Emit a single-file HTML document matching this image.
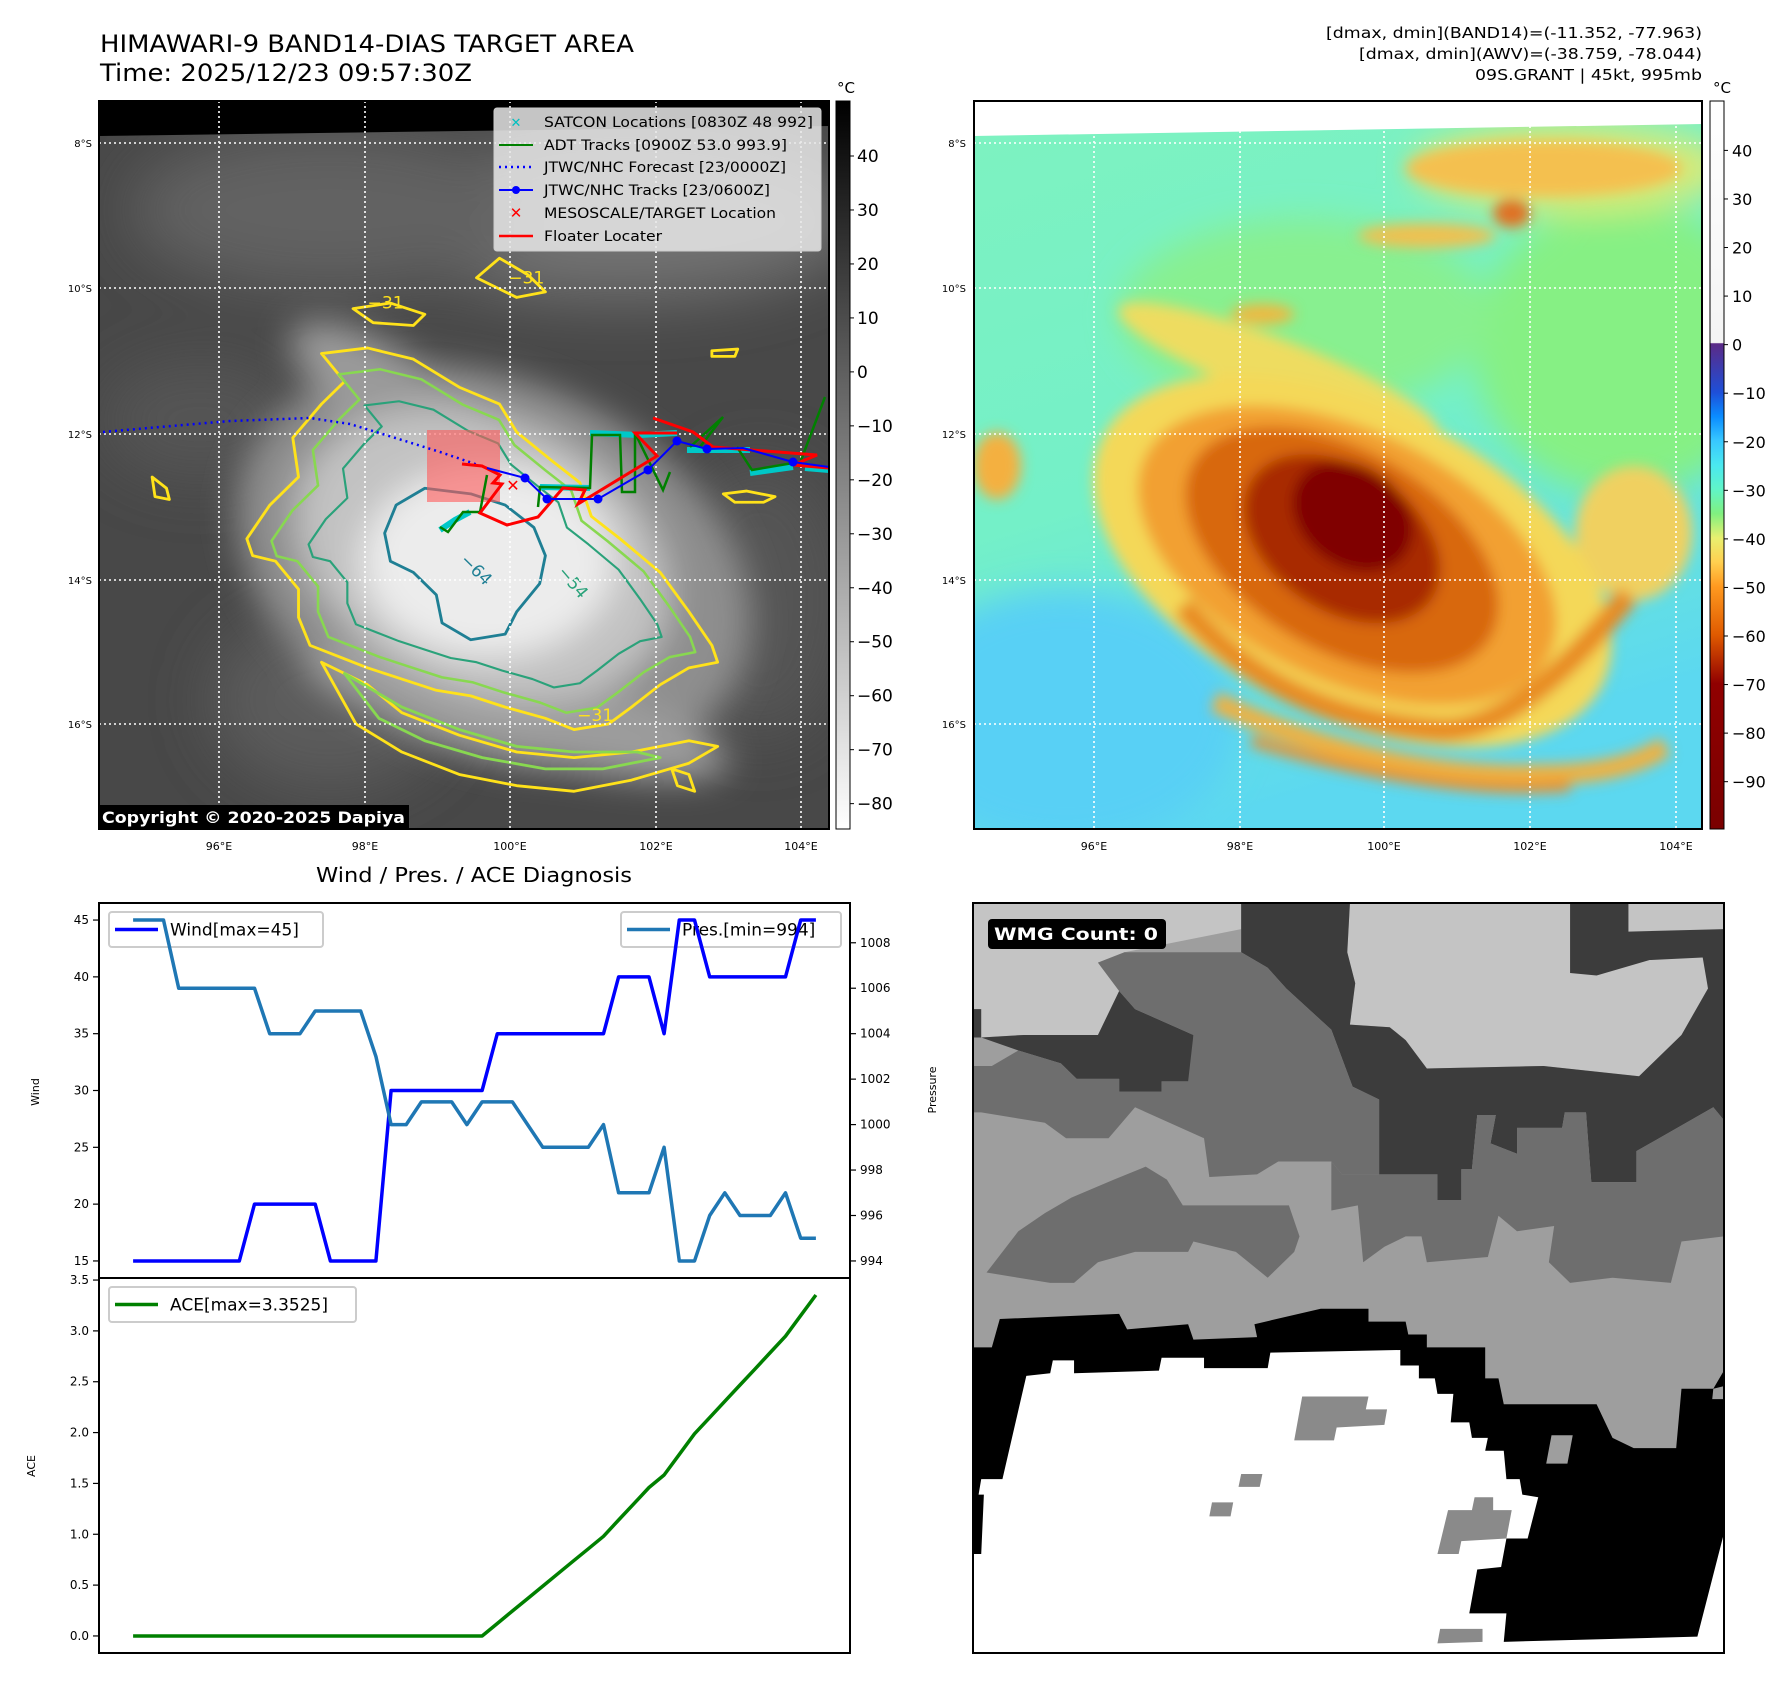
<!DOCTYPE html>
<html><head><meta charset="utf-8"><title>HIMAWARI-9 BAND14 Target Area</title>
<style>
html,body{margin:0;padding:0;background:#fff;}
svg{display:block;font-family:"DejaVu Sans","Liberation Sans",sans-serif;}
</style></head>
<body>
<svg id="fig" width="1792" height="1690" viewBox="0 0 1792 1690" xmlns="http://www.w3.org/2000/svg">
<defs>
  <clipPath id="clip1"><rect x="99" y="101" width="730" height="728"/></clipPath>
  <clipPath id="clip2"><rect x="974" y="101" width="728" height="728"/></clipPath>
  <clipPath id="clip3"><rect x="973" y="903" width="751" height="750"/></clipPath>
  <filter id="b40" x="-50%" y="-50%" width="200%" height="200%"><feGaussianBlur stdDeviation="30"/></filter>
  <filter id="b15" x="-50%" y="-50%" width="200%" height="200%"><feGaussianBlur stdDeviation="12"/></filter>
  <filter id="b6" x="-50%" y="-50%" width="200%" height="200%"><feGaussianBlur stdDeviation="5"/></filter>
  <linearGradient id="cb1" x1="0" y1="0" x2="0" y2="1">
    <stop offset="0" stop-color="#000"/><stop offset="1" stop-color="#fff"/>
  </linearGradient>
  <linearGradient id="cb2" x1="0" y1="0" x2="0" y2="1">
    <stop offset="0" stop-color="#ffffff"/>
    <stop offset="0.332" stop-color="#f4f4f4"/>
    <stop offset="0.3334" stop-color="#5b2a86"/>
    <stop offset="0.4" stop-color="#1e4fd8"/>
    <stop offset="0.4333" stop-color="#0a8cff"/>
    <stop offset="0.4667" stop-color="#38c8ff"/>
    <stop offset="0.5" stop-color="#4ae8f0"/>
    <stop offset="0.5333" stop-color="#60f5c8"/>
    <stop offset="0.5667" stop-color="#80f080"/>
    <stop offset="0.6" stop-color="#e8f070"/>
    <stop offset="0.6333" stop-color="#ffd050"/>
    <stop offset="0.6667" stop-color="#ff9a20"/>
    <stop offset="0.7333" stop-color="#e05a00"/>
    <stop offset="0.8" stop-color="#900000"/>
    <stop offset="1" stop-color="#7a0000"/>
  </linearGradient>
  <linearGradient id="bg2" x1="0" y1="0" x2="0.3" y2="1">
    <stop offset="0" stop-color="#7ef2c0"/>
    <stop offset="0.55" stop-color="#74f0c8"/>
    <stop offset="1" stop-color="#5cd8f0"/>
  </linearGradient>
</defs>

<!-- titles -->
<text x="100" y="52" font-size="24" textLength="534" lengthAdjust="spacingAndGlyphs">HIMAWARI-9 BAND14-DIAS TARGET AREA</text>
<text x="100" y="81" font-size="24" textLength="372" lengthAdjust="spacingAndGlyphs">Time: 2025/12/23 09:57:30Z</text>
<g font-size="15" text-anchor="end">
  <text x="1702" y="38" textLength="376" lengthAdjust="spacingAndGlyphs">[dmax, dmin](BAND14)=(-11.352, -77.963)</text>
  <text x="1702" y="59" textLength="343" lengthAdjust="spacingAndGlyphs">[dmax, dmin](AWV)=(-38.759, -78.044)</text>
  <text x="1702" y="80" textLength="227" lengthAdjust="spacingAndGlyphs">09S.GRANT | 45kt, 995mb</text>
</g>

<!-- ============ MAP 1 (grayscale IR) ============ -->
<g>
<g clip-path="url(#clip1)">
  <rect x="99" y="101" width="730" height="728" fill="#484848"/>
  <g filter="url(#b40)">
    <ellipse cx="620" cy="220" rx="240" ry="80" fill="#727272"/>
    <ellipse cx="330" cy="210" rx="200" ry="80" fill="#626262"/>
    <ellipse cx="200" cy="420" rx="100" ry="60" fill="#555"/>
    <ellipse cx="330" cy="700" rx="120" ry="90" fill="#5c5c5c"/>
    <ellipse cx="760" cy="600" rx="90" ry="140" fill="#555"/>
  </g>
  <g transform="scale(0.5741,0.5612)">
    <g filter="url(#b40)">
      <ellipse cx="860" cy="1010" rx="470" ry="330" transform="rotate(25 860 1010)" fill="#8e8e8e"/>
      <ellipse cx="700" cy="720" rx="230" ry="80" transform="rotate(35 700 720)" fill="#9a9a9a"/>
      <ellipse cx="900" cy="1270" rx="380" ry="80" transform="rotate(14 900 1270)" fill="#9c9c9c"/>
      <ellipse cx="840" cy="990" rx="340" ry="240" transform="rotate(25 840 990)" fill="#c2c2c2"/>
      <ellipse cx="850" cy="1000" rx="220" ry="170" fill="#ececec"/>
    </g>
    <g fill="none" stroke-width="5" stroke-linejoin="round">
      <path stroke="#ffe21a" d="M430,960 L470,900 520,850 510,780 560,720 600,680 560,630 640,620 720,640 800,690 870,720 900,770 960,820 1010,860 1030,920 1080,960 1150,1020 1200,1090 1240,1150 1250,1180 1200,1190 1150,1220 1100,1260 1060,1290 1000,1300 950,1280 880,1260 820,1240 760,1230 700,1210 640,1190 590,1170 540,1150 520,1100 520,1050 480,1000 440,990 Z"/>
      <path stroke="#ffe21a" d="M560,1180 L620,1290 700,1340 800,1380 900,1400 1000,1410 1100,1390 1200,1360 1250,1330 1200,1320 1100,1340 1000,1350 900,1340 800,1310 700,1270 640,1220 Z"/>
      <path stroke="#ffe21a" d="M830,495 L870,460 920,490 950,520 900,530 850,505 Z M615,550 L680,540 740,560 720,580 650,575 Z M1240,625 L1285,622 1280,635 1240,635 Z M265,850 L290,870 295,890 270,885 Z M1260,880 L1300,875 1350,885 1330,895 1280,895 Z M1170,1370 L1200,1380 1210,1410 1180,1400 Z"/>
      <path stroke="#88d850" transform="translate(86,100) scale(0.9)" d="M430,960 L470,900 520,850 510,780 560,720 600,680 560,630 640,620 720,640 800,690 870,720 900,770 960,820 1010,860 1030,920 1080,960 1150,1020 1200,1090 1240,1150 1250,1180 1200,1190 1150,1220 1100,1260 1060,1290 1000,1300 950,1280 880,1260 820,1240 760,1230 700,1210 640,1190 590,1170 540,1150 520,1100 520,1050 480,1000 440,990 Z"/>
      <path stroke="#88d850" d="M600,1200 L660,1280 740,1320 840,1350 950,1370 1050,1370 1150,1350 1110,1340 1000,1340 900,1330 800,1300 700,1260 Z"/>
      <path stroke="#2aa27a" transform="translate(215,250) scale(0.75)" d="M430,960 L470,900 520,850 510,780 560,720 600,680 560,630 640,620 720,640 800,690 870,720 900,770 960,820 1010,860 1030,920 1080,960 1150,1020 1200,1090 1240,1150 1250,1180 1200,1190 1150,1220 1100,1260 1060,1290 1000,1300 950,1280 880,1260 820,1240 760,1230 700,1210 640,1190 590,1170 540,1150 520,1100 520,1050 480,1000 440,990 Z"/>
      <path stroke="#1f7f94" d="M690,900 L740,870 820,880 880,900 930,940 950,990 940,1040 900,1090 880,1130 820,1140 770,1110 760,1060 720,1020 680,1000 670,950 Z"/>
    </g>
    <text x="800" y="1000" font-size="30" fill="#1f7f94" transform="rotate(45 800 1000)">−64</text>
    <text x="970" y="1020" font-size="30" fill="#2aa27a" transform="rotate(50 970 1020)">−54</text>
    <text x="1005" y="1285" font-size="30" fill="#ffe21a">−31</text>
    <text x="885" y="505" font-size="30" fill="#ffe21a">−31</text>
    <text x="640" y="550" font-size="30" fill="#ffe21a">−31</text>
  </g>
  <polygon points="99,101 829,101 829,126 99,136" fill="#000"/>
  <g stroke="#fff" stroke-width="1.6" stroke-dasharray="2,3">
    <line x1="219" y1="101" x2="219" y2="829"/><line x1="365" y1="101" x2="365" y2="829"/>
    <line x1="510" y1="101" x2="510" y2="829"/><line x1="656" y1="101" x2="656" y2="829"/>
    <line x1="801" y1="101" x2="801" y2="829"/>
    <line x1="99" y1="143" x2="829" y2="143"/><line x1="99" y1="288" x2="829" y2="288"/>
    <line x1="99" y1="434" x2="829" y2="434"/><line x1="99" y1="580" x2="829" y2="580"/>
    <line x1="99" y1="724" x2="829" y2="724"/>
  </g>
  <rect x="427" y="430" width="73" height="72" fill="rgba(255,90,90,0.6)"/>
  <polyline points="103,432 160,427 230,421 310,418 350,424 402,440 440,452 487,468" fill="none" stroke="#0000ff" stroke-width="2.5" stroke-dasharray="2,4"/>
  <g stroke="#00c8c8" stroke-width="6" fill="none">
    <polyline points="590,433 640,435 677,433"/>
    <polyline points="687,450 750,450"/>
    <polyline points="750,473 793,467"/>
    <polyline points="805,468 829,470"/>
    <polyline points="540,487 590,488"/>
    <polyline points="440,530 455,520 470,512"/>
  </g>
  <g stroke="#008000" stroke-width="2.5" fill="none">
    <polyline points="440,527 448,532 463,512 480,512 487,475"/>
    <polyline points="538,507 540,487 590,488 592,435 620,435 622,492 635,492 635,433 663,490 670,472"/>
    <polyline points="690,447 723,417 700,447"/>
    <polyline points="737,447 752,470 793,463 800,463 825,397"/>
  </g>
  <polyline points="462,464 482,466 500,475 493,483 502,484 480,513 507,525 538,517 563,488 585,490 578,504 657,456 635,433 677,433" fill="none" stroke="#ff0000" stroke-width="3"/>
  <polyline points="653,418 693,432 713,447 817,455 793,465 829,468" fill="none" stroke="#ff0000" stroke-width="3"/>
  <polyline points="487,468 525,478 547,499 598,499 648,470 677,441 707,449 743,448 793,462 829,467" fill="none" stroke="#0000ff" stroke-width="2"/>
  <g fill="#0000ff">
    <circle cx="525" cy="478" r="4.5"/><circle cx="547" cy="499" r="4.5"/><circle cx="598" cy="499" r="4.5"/>
    <circle cx="648" cy="470" r="4.5"/><circle cx="677" cy="441" r="4.5"/><circle cx="707" cy="449" r="4.5"/>
    <circle cx="793" cy="462" r="4.5"/>
  </g>
  <text x="513" y="491" font-size="16" font-weight="bold" fill="#ff0000" text-anchor="middle">✕</text>
</g>
<rect x="99" y="101" width="730" height="728" fill="none" stroke="#000" stroke-width="2"/>
<g>
  <rect x="494" y="108" width="327" height="143" rx="3" fill="rgba(232,232,232,0.85)" stroke="#ccc"/>
  <g font-size="14" fill="#000">
    <text x="516" y="127" font-size="13" fill="#00c0c0" font-weight="bold" text-anchor="middle">✕</text>
    <text x="544" y="127" textLength="269" lengthAdjust="spacingAndGlyphs">SATCON Locations [0830Z 48 992]</text>
    <line x1="499" y1="145" x2="533" y2="145" stroke="#008000" stroke-width="2"/>
    <text x="544" y="150" textLength="243" lengthAdjust="spacingAndGlyphs">ADT Tracks [0900Z 53.0 993.9]</text>
    <line x1="499" y1="167" x2="533" y2="167" stroke="#0000ff" stroke-width="2.5" stroke-dasharray="2,4"/>
    <text x="544" y="172" textLength="242" lengthAdjust="spacingAndGlyphs">JTWC/NHC Forecast [23/0000Z]</text>
    <line x1="499" y1="190" x2="533" y2="190" stroke="#0000ff" stroke-width="2"/><circle cx="516" cy="190" r="4" fill="#0000ff"/>
    <text x="544" y="195" textLength="226" lengthAdjust="spacingAndGlyphs">JTWC/NHC Tracks [23/0600Z]</text>
    <text x="516" y="218" font-size="15" fill="#ff0000" font-weight="bold" text-anchor="middle">✕</text>
    <text x="544" y="218" textLength="232" lengthAdjust="spacingAndGlyphs">MESOSCALE/TARGET Location</text>
    <line x1="499" y1="236" x2="533" y2="236" stroke="#ff0000" stroke-width="2.5"/>
    <text x="544" y="241" textLength="118" lengthAdjust="spacingAndGlyphs">Floater Locater</text>
  </g>
</g>
<g>
  <rect x="98" y="805" width="311" height="24" fill="#000"/>
  <text x="102" y="823" font-size="16" font-weight="bold" fill="#fff" textLength="303" lengthAdjust="spacingAndGlyphs">Copyright © 2020-2025 Dapiya</text>
</g>
<g font-size="10" text-anchor="end">
  <text x="92" y="147">8°S</text><text x="92" y="292">10°S</text><text x="92" y="438">12°S</text><text x="92" y="584">14°S</text><text x="92" y="728">16°S</text>
</g>
<g font-size="11" text-anchor="middle">
  <text x="219" y="850">96°E</text><text x="365" y="850">98°E</text><text x="510" y="850">100°E</text><text x="656" y="850">102°E</text><text x="801" y="850">104°E</text>
</g>
</g>
<g>
  <rect x="836" y="101" width="14" height="728" fill="url(#cb1)" stroke="#000" stroke-width="1"/>
  <text x="846" y="93" font-size="15" text-anchor="middle">°C</text>
  <g id="cb1ticks" font-size="17"></g>
</g>

<!-- ============ MAP 2 (colour) ============ -->
<g>
<g clip-path="url(#clip2)">
  <rect x="974" y="101" width="728" height="728" fill="url(#bg2)"/>
  <g transform="translate(960,0) scale(0.5305,0.5612)">
    <g filter="url(#b40)">
      <ellipse cx="1250" cy="620" rx="280" ry="260" fill="#86f084"/>
      <ellipse cx="650" cy="560" rx="350" ry="170" fill="#88f090"/>
      <ellipse cx="200" cy="1280" rx="330" ry="230" fill="#58d0f5"/>
      <ellipse cx="1150" cy="300" rx="300" ry="80" fill="#d8ea78"/>
    </g>
    <g filter="url(#b15)">
      <ellipse cx="1100" cy="300" rx="260" ry="50" fill="#f4c050"/>
      <ellipse cx="1040" cy="380" rx="35" ry="25" fill="#e07020"/>
      <ellipse cx="880" cy="420" rx="130" ry="22" fill="#f0c050"/>
      <ellipse cx="570" cy="560" rx="60" ry="18" fill="#f0b840"/>
      <ellipse cx="600" cy="660" rx="320" ry="55" transform="rotate(20 600 660)" fill="#eedc60"/>
      <ellipse cx="70" cy="830" rx="45" ry="60" fill="#f4b040"/>
      <ellipse cx="1270" cy="950" rx="110" ry="120" fill="#f0d060"/>
      <ellipse cx="740" cy="1000" rx="520" ry="280" transform="rotate(24 740 1000)" fill="#f4d858"/>
      <ellipse cx="730" cy="990" rx="420" ry="225" transform="rotate(24 730 990)" fill="#f2a030"/>
      <ellipse cx="720" cy="980" rx="320" ry="180" transform="rotate(28 720 980)" fill="#d86810"/>
      <ellipse cx="720" cy="960" rx="200" ry="130" transform="rotate(30 720 960)" fill="#a82c00"/>
      <ellipse cx="740" cy="920" rx="120" ry="90" transform="rotate(30 740 920)" fill="#800000"/>
      <path d="M420,1080 Q600,1280 900,1300 Q1050,1310 1260,1060" fill="none" stroke="#e88a20" stroke-width="40"/>
      <path d="M480,1250 Q800,1390 1100,1380 Q1250,1380 1330,1330" fill="none" stroke="#f0b040" stroke-width="36"/>
      <path d="M550,1320 Q900,1420 1150,1400" fill="none" stroke="#e89030" stroke-width="20"/>
    </g>
  </g>
  <polygon points="974,101 1702,101 1702,124 974,136" fill="#fff"/>
  <g stroke="#fff" stroke-width="1.6" stroke-dasharray="2,3">
    <line x1="1094" y1="101" x2="1094" y2="829"/><line x1="1240" y1="101" x2="1240" y2="829"/>
    <line x1="1384" y1="101" x2="1384" y2="829"/><line x1="1530" y1="101" x2="1530" y2="829"/>
    <line x1="1676" y1="101" x2="1676" y2="829"/>
    <line x1="974" y1="143" x2="1702" y2="143"/><line x1="974" y1="288" x2="1702" y2="288"/>
    <line x1="974" y1="434" x2="1702" y2="434"/><line x1="974" y1="580" x2="1702" y2="580"/>
    <line x1="974" y1="724" x2="1702" y2="724"/>
  </g>
</g>
<rect x="974" y="101" width="728" height="728" fill="none" stroke="#000" stroke-width="2"/>
<g font-size="10" text-anchor="end">
  <text x="966" y="147">8°S</text><text x="966" y="292">10°S</text><text x="966" y="438">12°S</text><text x="966" y="584">14°S</text><text x="966" y="728">16°S</text>
</g>
<g font-size="11" text-anchor="middle">
  <text x="1094" y="850">96°E</text><text x="1240" y="850">98°E</text><text x="1384" y="850">100°E</text><text x="1530" y="850">102°E</text><text x="1676" y="850">104°E</text>
</g>
</g>
<g>
  <rect x="1710" y="101" width="14" height="728" fill="url(#cb2)" stroke="#000" stroke-width="1"/>
  <text x="1722" y="93" font-size="15" text-anchor="middle">°C</text>
  <g id="cb2ticks" font-size="16"></g>
</g>

<!-- ============ WMG panel ============ -->
<g>
<g clip-path="url(#clip3)">
<g transform="translate(960,880) scale(0.5305,0.5165)">
  <rect x="25" y="45" width="1415" height="1452" fill="#9e9e9e"/>
  <polygon fill="#c4c4c4" points="25,45 530,45 530,95 310,140 260,160 300,215 270,300 120,300 40,305 25,305"/>
  <polygon fill="#c4c4c4" points="735,45 1440,45 1440,95 1400,100 1410,210 1360,300 1280,380 1100,360 880,365 840,310 810,285 735,280 745,200 730,140"/>
  <polygon fill="#3c3c3c" points="530,45 735,45 730,140 745,200 735,280 810,285 840,310 880,365 1100,360 1280,380 1360,300 1410,210 1440,210 1440,465 1420,440 1275,525 1275,585 1190,585 1180,450 1140,450 1135,480 1050,480 1050,530 1000,510 1010,455 975,455 965,560 945,560 945,620 900,620 900,570 790,570 790,425 740,400 700,290 615,210 580,170 530,140"/>
  <polygon fill="#3c3c3c" points="1150,45 1260,45 1260,100 1440,95 1440,210 1410,210 1400,150 1300,155 1200,185 1150,180"/>
  <polygon fill="#3c3c3c" points="25,250 40,250 40,305 120,300 260,300 300,215 330,250 440,300 440,390 380,390 380,410 300,410 300,385 220,385 190,355 110,330 40,305 25,305"/>
  <polygon fill="#6e6e6e" points="310,140 530,140 580,170 615,210 700,290 740,400 790,425 790,570 720,570 700,545 600,545 560,570 470,575 460,500 430,390 440,300 330,250 300,215 260,160"/>
  <polygon fill="#6e6e6e" points="25,360 60,360 110,330 190,355 220,385 300,385 300,410 380,410 380,390 440,390 460,500 330,440 280,500 200,500 160,470 40,450 25,450"/>
  <polygon fill="#6e6e6e" points="50,760 110,680 160,645 210,615 290,580 350,555 390,580 420,630 620,630 640,690 630,720 580,770 520,720 440,700 430,720 330,720 260,740 215,780 170,780"/>
  <polygon fill="#6e6e6e" points="700,545 720,570 900,570 900,620 945,620 945,560 965,560 975,455 1010,455 1000,510 1050,530 1050,480 1135,480 1140,450 1180,450 1190,585 1275,585 1275,525 1420,440 1440,465 1440,690 1360,700 1340,780 1230,770 1150,780 1110,740 1120,670 1050,680 1015,650 995,730 880,740 870,690 840,690 800,710 760,740 750,630 700,640 700,580"/>
  <polygon fill="#000" points="25,905 60,905 75,850 300,840 315,870 430,860 440,890 560,885 555,860 680,830 770,830 770,855 840,855 845,880 880,880 880,905 990,905 990,965 1015,965 1025,1015 1200,1015 1230,1080 1270,1100 1350,1100 1360,985 1420,985 1440,950 1440,1497 25,1497"/>
  <polygon fill="#fff" points="35,1190 40,1160 80,1160 125,960 170,955 175,930 215,930 215,955 375,950 380,925 460,925 460,945 580,945 585,915 830,910 830,940 865,940 865,965 895,965 900,995 930,995 925,1050 960,1050 965,1080 995,1080 990,1105 1025,1105 1030,1160 1055,1160 1060,1190 1090,1195 1070,1275 1030,1275 1020,1330 975,1335 960,1420 1030,1420 1025,1475 1390,1465 1440,1265 1440,1497 25,1497 25,1305 40,1305 45,1190"/>
  <g fill="#8a8a8a">
    <polygon points="645,1000 770,1000 765,1025 805,1025 800,1055 710,1060 705,1085 630,1085"/>
    <polygon points="530,1150 570,1150 565,1175 525,1175"/>
    <polygon points="475,1205 515,1205 510,1232 470,1232"/>
    <polygon points="920,1220 965,1220 970,1195 1005,1195 1005,1220 1040,1220 1030,1275 945,1280 940,1305 900,1305"/>
    <polygon points="905,1450 985,1450 985,1475 900,1478"/>
  </g>
  <polygon fill="#9e9e9e" points="1115,1075 1155,1075 1145,1130 1105,1130"/>
  <polygon fill="#9e9e9e" points="1420,985 1440,980 1440,1005 1418,1005"/>
</g>
</g>
<rect x="973" y="903" width="751" height="750" fill="none" stroke="#000" stroke-width="2"/>
<rect x="988" y="919" width="178" height="30" rx="4" fill="#000"/>
<text x="994" y="940" font-size="17" font-weight="bold" fill="#fff" textLength="164" lengthAdjust="spacingAndGlyphs">WMG Count: 0</text>
</g>

<!-- ============ Chart ============ -->
<g id="chart">
  <text x="474" y="882" font-size="20" text-anchor="middle" textLength="316" lengthAdjust="spacingAndGlyphs">Wind / Pres. / ACE Diagnosis</text>
  <text x="0" y="0" font-size="11" text-anchor="middle" transform="translate(39,1092) rotate(-90)">Wind</text>
  <text x="0" y="0" font-size="11" text-anchor="middle" transform="translate(936,1090) rotate(-90)">Pressure</text>
  <text x="0" y="0" font-size="11" text-anchor="middle" transform="translate(35,1466) rotate(-90)">ACE</text>
  <g id="legends"></g>
  <g id="marks"></g>
  <rect x="99" y="903" width="751" height="375" fill="none" stroke="#000" stroke-width="2"/>
  <rect x="99" y="1278" width="751" height="375" fill="none" stroke="#000" stroke-width="2"/>
  <g id="ticks" font-size="12"></g>
</g>
</svg>

<script>
const windValues = [15,15,15,15,15,15,15,15,20,20,20,20,20,15,15,15,15,30,30,30,30,30,30,30,35,35,35,35,35,35,35,35,40,40,40,35,45,45,40,40,40,40,40,40,45,45];
const presValues = [1009,1009,1009,1006,1006,1006,1006,1006,1006,1004,1004,1004,1005,1005,1005,1005,1003,1000,1000,1001,1001,1001,1000,1001,1001,1001,1000,999,999,999,999,1000,997,997,997,999,994,994,996,997,996,996,996,997,995,995];
const aceValues = [0,0,0,0,0,0,0,0,0,0,0,0,0,0,0,0,0,0,0,0,0,0,0,0,0.1225,0.245,0.3675,0.49,0.6125,0.735,0.8575,0.98,1.14,1.30,1.46,1.5825,1.785,1.9875,2.1475,2.3075,2.4675,2.6275,2.7875,2.9475,3.15,3.3525];
const windTicks = [15,20,25,30,35,40,45];
const presTicks = [994,996,998,1000,1002,1004,1006,1008];
const aceTicks = [0,0.5,1,1.5,2,2.5,3,3.5];
const cb1Ticks = [40,30,20,10,0,-10,-20,-30,-40,-50,-60,-70,-80];
const cb2Ticks = [40,30,20,10,0,-10,-20,-30,-40,-50,-60,-70,-80,-90];

const NS = 'http://www.w3.org/2000/svg';
function mk(tag, attrs, parent){ const e=document.createElementNS(NS,tag); for(const k in attrs) e.setAttribute(k,attrs[k]); parent.appendChild(e); return e; }

const L=99, R=850, T1=903, B1=1278, T2=1278, B2=1653;
const n = windValues.length;
const xMin=-0.05*(n-1), xMax=(n-1)*1.05;
function xS(i){ return L + (i-xMin)/(xMax-xMin)*(R-L); }
function ext(arr){ const mn=Math.min(...arr), mx=Math.max(...arr), p=(mx-mn)*0.05; return [mn-p, mx+p]; }
const wE=ext(windValues), pE=ext(presValues), aE=ext(aceValues);
function yW(v){ return T1 + (wE[1]-v)/(wE[1]-wE[0])*(B1-T1); }
function yP(v){ return T1 + (pE[1]-v)/(pE[1]-pE[0])*(B1-T1); }
function yA(v){ return T2 + (aE[1]-v)/(aE[1]-aE[0])*(B2-T2); }

const ticks=document.getElementById('ticks');
windTicks.forEach(v=>{ const y=yW(v);
  mk('line',{x1:L-6,y1:y,x2:L,y2:y,stroke:'#000','stroke-width':1.2},ticks);
  const t=mk('text',{x:L-10,y:y+4,'text-anchor':'end'},ticks); t.textContent=v;
  
  
});
presTicks.forEach(v=>{ const y=yP(v);
  mk('line',{x1:R,y1:y,x2:R+6,y2:y,stroke:'#000','stroke-width':1.2},ticks);
  const t=mk('text',{x:R+10,y:y+4},ticks); t.textContent=v;
  
  
});
aceTicks.forEach(v=>{ const y=yA(v);
  mk('line',{x1:L-6,y1:y,x2:L,y2:y,stroke:'#000','stroke-width':1.2},ticks);
  const t=mk('text',{x:L-10,y:y+4,'text-anchor':'end'},ticks); t.textContent=v.toFixed(1);
  
  
});

const lg=document.getElementById('legends');
function legend(x,y,w,h,color,label,name){
  const g=mk('g',{},lg);
  
  
  mk('rect',{x:x,y:y,width:w,height:h,rx:3,fill:'#fff',stroke:'#ccc','stroke-width':2},g);
  mk('line',{x1:x+6,y1:y+h/2,x2:x+49,y2:y+h/2,stroke:color,'stroke-width':3.5},g);
  const t=mk('text',{x:x+61,y:y+h/2+6,'font-size':17},g); t.textContent=label;
}
legend(109,912,214,35,'#0000ff','Wind[max=45]','wind-legend');
legend(621,912,220,35,'#1f77b4','Pres.[min=994]','pressure-legend');
legend(109,1287,247,35,'#008000','ACE[max=3.3525]','ace-legend');

const mg=document.getElementById('marks');
function line(vals,yf,color,name){
  const pts=vals.map((v,i)=>xS(i).toFixed(1)+','+yf(v).toFixed(1)).join(' ');
  const p=mk('polyline',{points:pts,fill:'none',stroke:color,'stroke-width':3.5,'stroke-linejoin':'round'},mg);
  
  
}
line(windValues,yW,'#0000ff','wind-line');
line(presValues,yP,'#1f77b4','pressure-line');
line(aceValues,yA,'#008000','ace-line');

const c1=document.getElementById('cb1ticks');
cb1Ticks.forEach(v=>{ const y=156+(40-v)*5.397;
  mk('line',{x1:850,y1:y,x2:854,y2:y,stroke:'#000'},c1);
  const t=mk('text',{x:857,y:y+6},c1); t.textContent=(v<0?'\u2212'+(-v):v);
  
  
});
const c2=document.getElementById('cb2ticks');
cb2Ticks.forEach(v=>{ const y=150.4+(40-v)*4.856;
  mk('line',{x1:1724,y1:y,x2:1728,y2:y,stroke:'#000'},c2);
  const t=mk('text',{x:1732,y:y+6},c2); t.textContent=(v<0?'\u2212'+(-v):v);
  
  
});
</script>
</body></html>
